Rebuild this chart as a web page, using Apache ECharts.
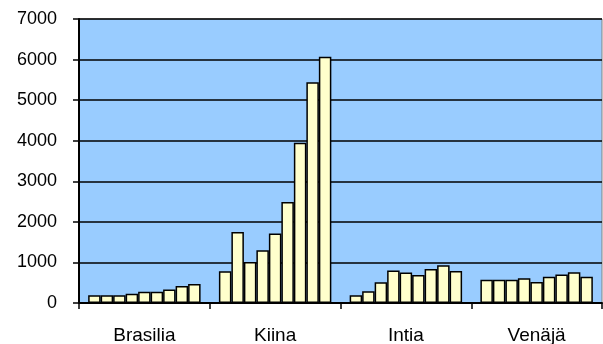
<!DOCTYPE html>
<html>
<head>
<meta charset="utf-8">
<script src="https://cdn.jsdelivr.net/npm/echarts@6/dist/echarts.min.js"></script>
<style>html,body{margin:0;padding:0;background:#fff}#c{width:603px;height:344px}</style>
</head>
<body>
<div id="c"></div>
<script>
const categories = ['Brasilia', 'Kiina', 'Intia', 'Venäjä'];
const brasilia = [190, 190, 190, 230, 280, 280, 330, 420, 470];
const kiina = [780, 1750, 1010, 1300, 1710, 2490, 3950, 5440, 6070];
const intia = [190, 290, 510, 800, 750, 690, 840, 930, 790];
const venaja = [570, 570, 570, 610, 520, 650, 700, 760, 650];
const yTicks = [0, 1000, 2000, 3000, 4000, 5000, 6000, 7000];

const groups = [brasilia, kiina, intia, venaja];
const series = brasilia.map((_, i) => ({
  type: 'bar',
  data: groups.map(g => g[i]),
  barGap: '0%',
  barCategoryGap: '14%',
  itemStyle: { color: '#FFFFCC', borderColor: '#000', borderWidth: 1.5 },
  emphasis: { disabled: true },
  animation: false
}));

const chart = echarts.init(document.getElementById('c'));
chart.setOption({
  animation: false,
  grid: { left: 79, right: 1, top: 19, bottom: 41, containLabel: false, outerBoundsMode: 'none', show: true, backgroundColor: '#99CCFF', borderColor: '#808080', borderWidth: 1 },
  xAxis: {
    type: 'category',
    data: categories,
    axisLine: { lineStyle: { color: '#000', width: 2 } },
    axisTick: { show: true, length: 6, lineStyle: { color: '#000', width: 1.5 } },
    axisLabel: { color: '#000', fontFamily: 'Liberation Sans, Arial', fontSize: 19, margin: 23 }
  },
  yAxis: {
    type: 'value',
    min: yTicks[0],
    max: yTicks[yTicks.length - 1],
    interval: 1000,
    axisLine: { show: true, lineStyle: { color: '#000', width: 2 } },
    axisTick: { show: true, length: 6, lineStyle: { color: '#000', width: 1.5 } },
    axisLabel: { color: '#000', fontFamily: 'Liberation Sans, Arial', fontSize: 18, margin: 22, formatter: v => String(v) },
    splitLine: { show: true, lineStyle: { color: '#000', width: 1.5 } }
  },
  series: series
});
</script>
</body>
</html>
